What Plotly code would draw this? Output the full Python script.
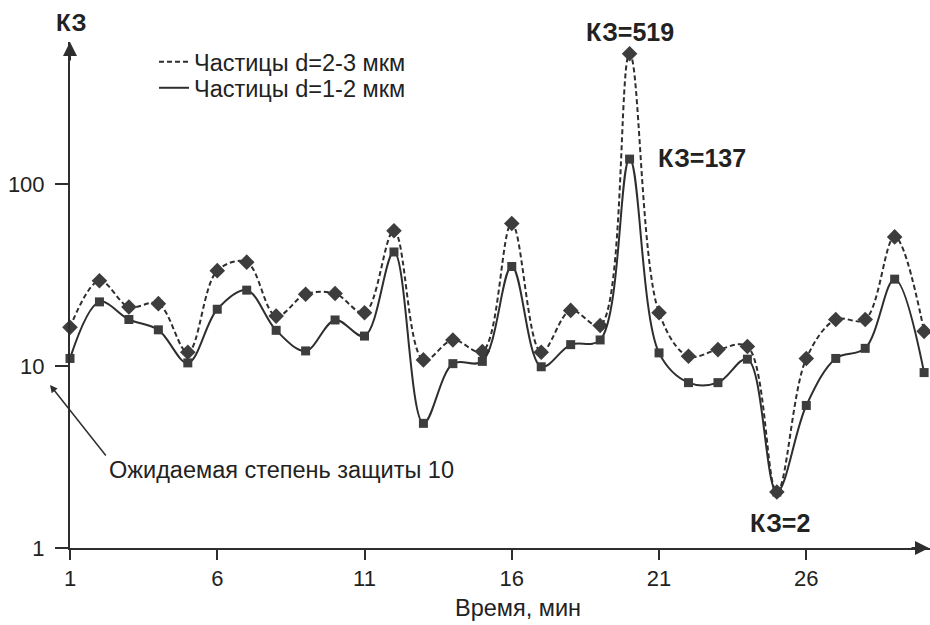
import plotly.graph_objects as go

minutes = list(range(1, 31))
kz_2_3 = [16.3, 29.4, 21.1, 22.0, 11.9, 33.4, 37.2, 18.8, 24.8, 25.0,
          19.6, 55.3, 10.8, 13.9, 12.0, 60.7, 11.9, 20.2, 16.7, 519,
          19.6, 11.3, 12.3, 12.8, 2.03, 11.0, 18.0, 18.0, 51.2, 15.5]
kz_1_2 = [11.0, 22.5, 18.0, 15.8, 10.4, 20.5, 26.1, 15.7, 12.1, 17.9,
          14.6, 42.3, 4.84, 10.3, 10.6, 35.2, 9.9, 13.1, 13.9, 137,
          11.8, 8.1, 8.1, 10.9, 2.03, 6.07, 11.0, 12.5, 30.0, 9.2]
x_ticks = [1, 6, 11, 16, 21, 26]
y_ticks = [1, 10, 100]
series_names = ["Частицы d=2-3 мкм", "Частицы d=1-2 мкм"]

INK = "#2e2e2e"
MARK = "#3d3d3d"
FONT = "Liberation Sans, Arial, sans-serif"
TXT = 23.5

fig = go.Figure()
fig.add_trace(go.Scatter(
    x=minutes, y=kz_2_3, mode="lines+markers", showlegend=False,
    line=dict(color=INK, width=2, dash="5px,3px", shape="spline", smoothing=1),
    marker=dict(symbol="diamond", size=12, color=MARK), cliponaxis=False))
fig.add_trace(go.Scatter(
    x=minutes, y=kz_1_2, mode="lines+markers", showlegend=False,
    line=dict(color=INK, width=2, shape="spline", smoothing=1),
    marker=dict(symbol="square", size=9, color=MARK), cliponaxis=False))
# legend-only entries (lines without markers)
fig.add_trace(go.Scatter(x=[None], y=[None], mode="lines", name=series_names[0],
                         legend="legend",
                         line=dict(color=INK, width=2, dash="5px,3px")))
fig.add_trace(go.Scatter(x=[None], y=[None], mode="lines", name=series_names[1],
                         legend="legend2",
                         line=dict(color=INK, width=2)))

top_log = 2.78
H = 506.0   # plot height in px
W = 860.0   # plot width in px


def py(p):
    return (548 - p) / H


def px(p):
    return (p - 70) / W


leg_common = dict(xanchor="left", yanchor="middle", bgcolor="rgba(0,0,0,0)",
                  font=dict(size=TXT), itemwidth=30, borderwidth=0)
fig.update_layout(
    width=930, height=625,
    margin=dict(l=70, r=0, t=42, b=77),
    paper_bgcolor="white", plot_bgcolor="white",
    font=dict(family=FONT, size=22, color="#222222"),
    showlegend=True,
    legend=dict(x=px(154), y=py(62), **leg_common),
    legend2=dict(x=px(154), y=py(88), **leg_common),
    xaxis=dict(range=[1, 30.2], tickvals=x_ticks, ticktext=[str(v) for v in x_ticks],
               showgrid=False, zeroline=False, showline=True, linecolor=INK, linewidth=2,
               ticks="outside", ticklen=10, tickwidth=2, tickcolor=INK,
               tickfont=dict(size=22)),
    yaxis=dict(type="log", range=[0, top_log], tickvals=y_ticks,
               ticktext=[str(v) for v in y_ticks],
               showgrid=False, zeroline=False, showline=True, linecolor=INK, linewidth=2,
               ticks="outside", ticklen=13, tickwidth=2, tickcolor=INK,
               tickfont=dict(size=22), ticklabelstandoff=6),
)

# axis arrowheads
fig.add_annotation(x=1, y=top_log, xref="x", yref="y", ax=0, ay=20,
                   showarrow=True, arrowhead=2, arrowsize=1.4, arrowwidth=2, arrowcolor=INK, text="")
fig.add_annotation(x=1.0, y=0, xref="paper", yref="paper", ax=-20, ay=0,
                   showarrow=True, arrowhead=2, arrowsize=1.4, arrowwidth=2, arrowcolor=INK, text="")

# axis title
fig.add_annotation(x=px(518), y=py(608), xref="paper", yref="paper", text="Время, мин",
                   showarrow=False, xanchor="center", yanchor="middle", font=dict(size=TXT))

# labels
fig.add_annotation(x=px(71), y=py(22), xref="paper", yref="paper", text="<b>КЗ</b>",
                   showarrow=False, font=dict(size=24), xanchor="center", yanchor="middle")
fig.add_annotation(x=20, y=py(32), xref="x", yref="paper", text="<b>КЗ=519</b>",
                   showarrow=False, font=dict(size=25), yanchor="middle")
fig.add_annotation(x=px(656), y=py(158), xref="paper", yref="paper", text="<b>КЗ=137</b>",
                   showarrow=False, xanchor="left", yanchor="middle", font=dict(size=25))
fig.add_annotation(x=px(780), y=py(523), xref="paper", yref="paper", text="<b>КЗ=2</b>",
                   showarrow=False, xanchor="center", yanchor="middle", font=dict(size=25))

# expected protection annotation
fig.add_annotation(x=px(50), y=py(385), xref="paper", yref="paper", ax=57, ay=72,
                   showarrow=True, arrowhead=2, arrowsize=1, arrowwidth=1.5, arrowcolor=INK, text="")
fig.add_annotation(x=px(107), y=py(470), xref="paper", yref="paper",
                   text="Ожидаемая степень защиты 10", showarrow=False,
                   xanchor="left", yanchor="middle", font=dict(size=TXT))

fig.write_html("out.html", config={"displayModeBar": False},
               post_script="document.body.style.margin='0px';")
